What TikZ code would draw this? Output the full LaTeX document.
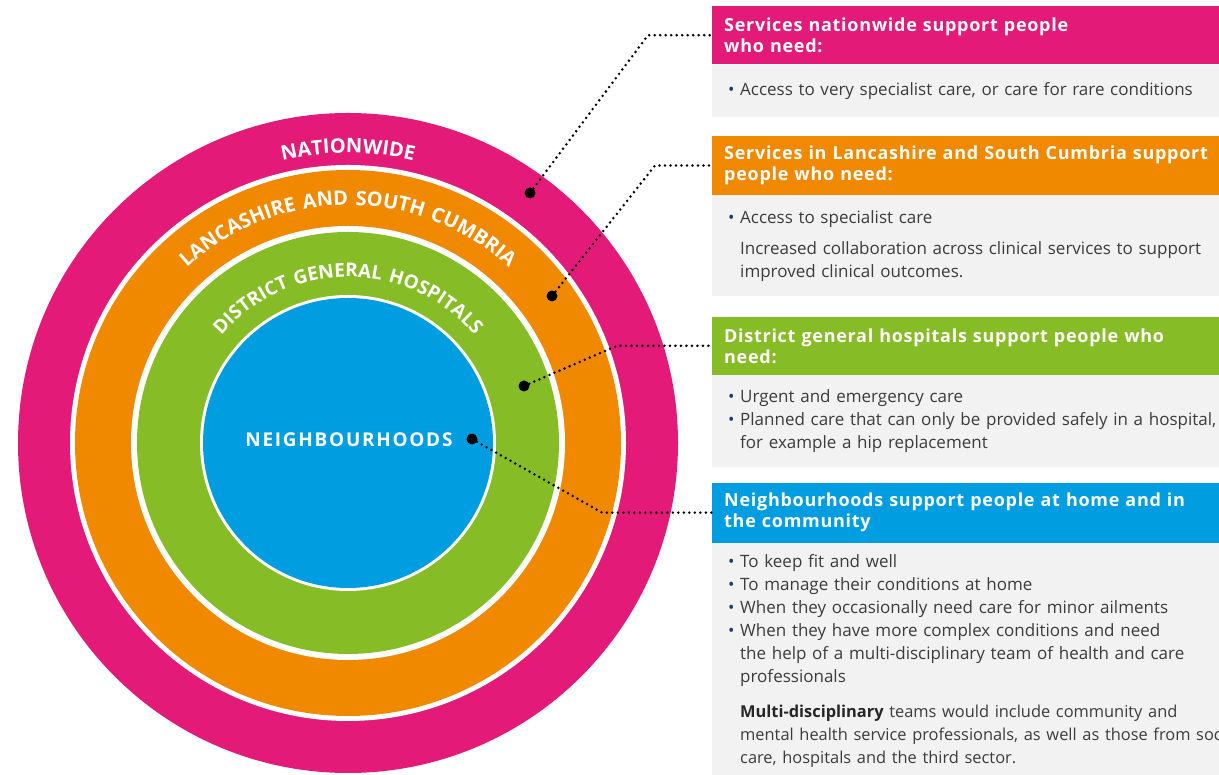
\documentclass[tikz,border=0pt]{standalone}
\usepackage{fontspec}
\setmainfont{Open Sans}
\newfontfamily\ringfam{Open Sans}[LetterSpace=9]
\newfontfamily\headfam{Open Sans}[LetterSpace=4]
\usepackage{xcolor}
\usetikzlibrary{positioning, decorations.text, calc}

\definecolor{natpink}{RGB}{228,26,120}
\definecolor{lscorange}{RGB}{240,137,0}
\definecolor{dghgreen}{RGB}{134,188,37}
\definecolor{nbhblue}{RGB}{0,158,224}
\definecolor{boxgray}{RGB}{242,242,242}
\definecolor{bodytext}{RGB}{60,60,60}
\definecolor{bulletblue}{RGB}{30,60,110}

\newcommand\ringfont[1]{\ringfam\bfseries\fontsize{#1pt}{#1pt}\selectfont}
\newcommand\bul{\makebox[12pt][l]{\textcolor{bulletblue}{\textbullet}}}
\newcommand\ind{\hspace*{12pt}}

\tikzset{
    head/.style={inner xsep=12pt, inner ysep=0pt, text width=570pt, minimum height=58pt,
        align=left, text=white, font=\headfam\bfseries\fontsize{18pt}{21pt}\selectfont},
    body/.style={fill=boxgray, inner xsep=16pt, inner ysep=0pt, text width=562pt,
        align=left, text=bodytext, font=\fontsize{17pt}{23pt}\selectfont},
    dot/.style={circle, fill=black, inner sep=0pt, minimum size=11pt},
    leader/.style={black, line width=2.8pt, dash pattern=on 0pt off 5.5pt, line cap=round}
}

\begin{document}
\begin{tikzpicture}[x=1pt, y=1pt]
    \useasboundingbox (0,0) rectangle (1219,775);
    \coordinate (ctr) at (348,332);

    % rings, from the outside in
    \foreach \r/\co in {330/natpink, 278/white, 273/lscorange, 217/white, 211/dghgreen, 148/white, 145/nbhblue}
    {
        \fill[\co] (ctr) circle (\r pt);
    }

    % ring labels
    \path[decorate, decoration={text along path, text align=center, text color=white,
            text={|\ringfont{20}|NATIONWIDE}}]
        ($(ctr)+(170:290pt)$) arc[start angle=170, end angle=10, radius=290pt];
    \path[decorate, decoration={text along path, text align=center, text color=white,
            text={|\ringfont{20}|LANCASHIRE AND SOUTH CUMBRIA}}]
        ($(ctr)+(175:238pt)$) arc[start angle=175, end angle=5, radius=238pt];
    \path[decorate, decoration={text along path, text align=center, text color=white,
            text={|\ringfont{19}|DISTRICT GENERAL HOSPITALS}}]
        ($(ctr)+(178:166pt)$) arc[start angle=178, end angle=2, radius=166pt];

    \node[font=\ringfont{19}, text=white] (nbhlabel) at (349,335) {NEIGHBOURHOODS};

    % dots
    \foreach \nm/\x/\y in {nat/530/582, lsc/552/479, dgh/524/389, nbh/472/336}
    {
        \node[dot] (dot-\nm) at (\x,\y) {};
    }

    % boxes
    \node[head, fill=natpink, anchor=north west] (head-nat) at (712,769)
        {Services nationwide support people\\who need:};
    \node[body, minimum height=52pt, below=0pt of head-nat] (body-nat)
        {\bul Access to very specialist care, or care for rare conditions};

    \node[head, fill=lscorange, minimum height=59pt, below=19pt of body-nat] (head-lsc)
        {Services in Lancashire and South Cumbria support\\people who need:};
    \node[body, minimum height=101pt, below=0pt of head-lsc] (body-lsc)
        {\bul Access to specialist care\\[8pt]
         \ind Increased collaboration across clinical services to support\\
         \ind improved clinical outcomes.};

    \node[head, fill=dghgreen, below=20pt of body-lsc] (head-dgh)
        {District general hospitals support people who\\need:};
    \node[body, minimum height=92pt, below=0pt of head-dgh] (body-dgh)
        {\bul Urgent and emergency care\\
         \bul Planned care that can only be provided safely in a hospital,\\
         \ind for example a hip replacement};

    \node[head, fill=nbhblue, minimum height=60pt, below=15pt of body-dgh] (head-nbh)
        {Neighbourhoods support people at home and in\\the community};
    \node[body, minimum height=235pt, below=0pt of head-nbh] (body-nbh)
        {\bul To keep fit and well\\
         \bul To manage their conditions at home\\
         \bul When they occasionally need care for minor ailments\\
         \bul When they have more complex conditions and need\\
         \ind the help of a multi-disciplinary team of health and care\\
         \ind professionals\\[12pt]
         \fontsize{16.4pt}{23pt}\selectfont
         \ind\textcolor{black!85}{\bfseries Multi-disciplinary} teams would include community and\\
         \ind mental health service professionals, as well as those from social\\
         \ind care, hospitals and the third sector.};

    % dotted leaders
    \foreach \nm/\bx in {nat/648, lsc/655, dgh/617, nbh/602}
    {
        \draw[leader] (dot-\nm) -- (\bx,0 |- head-\nm.west) -- (head-\nm.west);
    }
\end{tikzpicture}
\end{document}
